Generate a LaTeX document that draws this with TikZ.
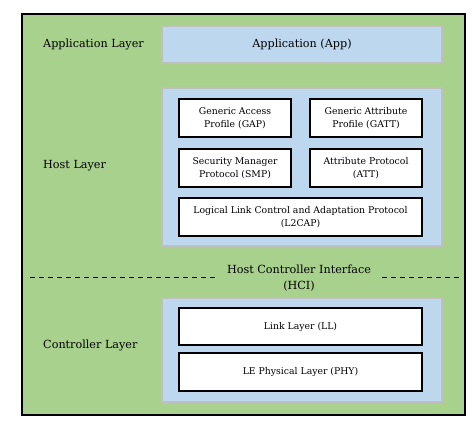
\documentclass[tikz,border=0pt]{standalone}
\usepackage{fontspec}
\setmainfont{DejaVu Serif}
\usetikzlibrary{positioning}
\definecolor{layergreen}{HTML}{A9D18E}
\definecolor{stackblue}{HTML}{BDD7EE}
\definecolor{edgegray}{HTML}{BFBFBF}

\begin{document}
\begin{tikzpicture}[x=1pt,y=1pt,
  frame/.style={draw=black,fill=layergreen,line width=1.3pt,minimum width=443pt,minimum height=401pt,inner sep=0pt},
  panel/.style={draw=edgegray,fill=stackblue,line width=1.5pt,minimum width=280pt,inner sep=0pt},
  block/.style={draw=black,fill=white,line width=1.2pt,align=center,inner sep=0pt,minimum height=38pt,font=\fontsize{9.3}{13}\selectfont},
  half/.style={block,minimum width=112pt},
  full/.style={block,minimum width=243pt},
  layer/.style={anchor=west,inner sep=0pt,font=\fontsize{11.2}{14}\selectfont}]
\useasboundingbox (0,0) rectangle (476,424);
\node[frame] (stack) at (243.5,209.5) {};
% application
\node[panel,minimum height=37pt,font=\fontsize{11.2}{14}\selectfont] (apppanel) at (302,379.5) {Application (App)};
\node[layer] (applabel) at (43,380) {Application Layer};
% host
\node[panel,minimum height=158pt] (hostpanel) at (302,257) {};
\node[half] (gap) at (235,306) {Generic Access\\Profile (GAP)};
\node[half] (gatt) at (366,306) {Generic Attribute\\Profile (GATT)};
\node[half] (smp) at (235,256) {Security Manager\\Protocol (SMP)};
\node[half] (att) at (366,256) {Attribute Protocol\\(ATT)};
\node[full] (l2cap) at (300.5,207) {Logical Link Control and Adaptation Protocol\\(L2CAP)};
\node[layer] (hostlabel) at (43,258) {Host Layer};
% interface
\node[align=center,inner sep=0pt,font=\fontsize{11.2}{16}\selectfont] (hci) at (299,146) {Host Controller Interface\\(HCI)};
\coordinate (dl) at (30,147);
\coordinate (dr) at (459,147);
\draw[dashed,dash pattern=on 5pt off 4pt,line width=1pt] (dl) -- (216,147);
\draw[dashed,dash pattern=on 5pt off 4pt,line width=1pt] (382,147) -- (dr);
% controller
\node[panel,minimum height=104pt] (ctrlpanel) at (302,74) {};
\node[full,minimum height=37pt] (ll) at (300.5,97.5) {Link Layer (LL)};
\node[full] (phy) at (300.5,52) {LE Physical Layer (PHY)};
\node[layer] (ctrllabel) at (43,79) {Controller Layer};
\end{tikzpicture}
\end{document}
